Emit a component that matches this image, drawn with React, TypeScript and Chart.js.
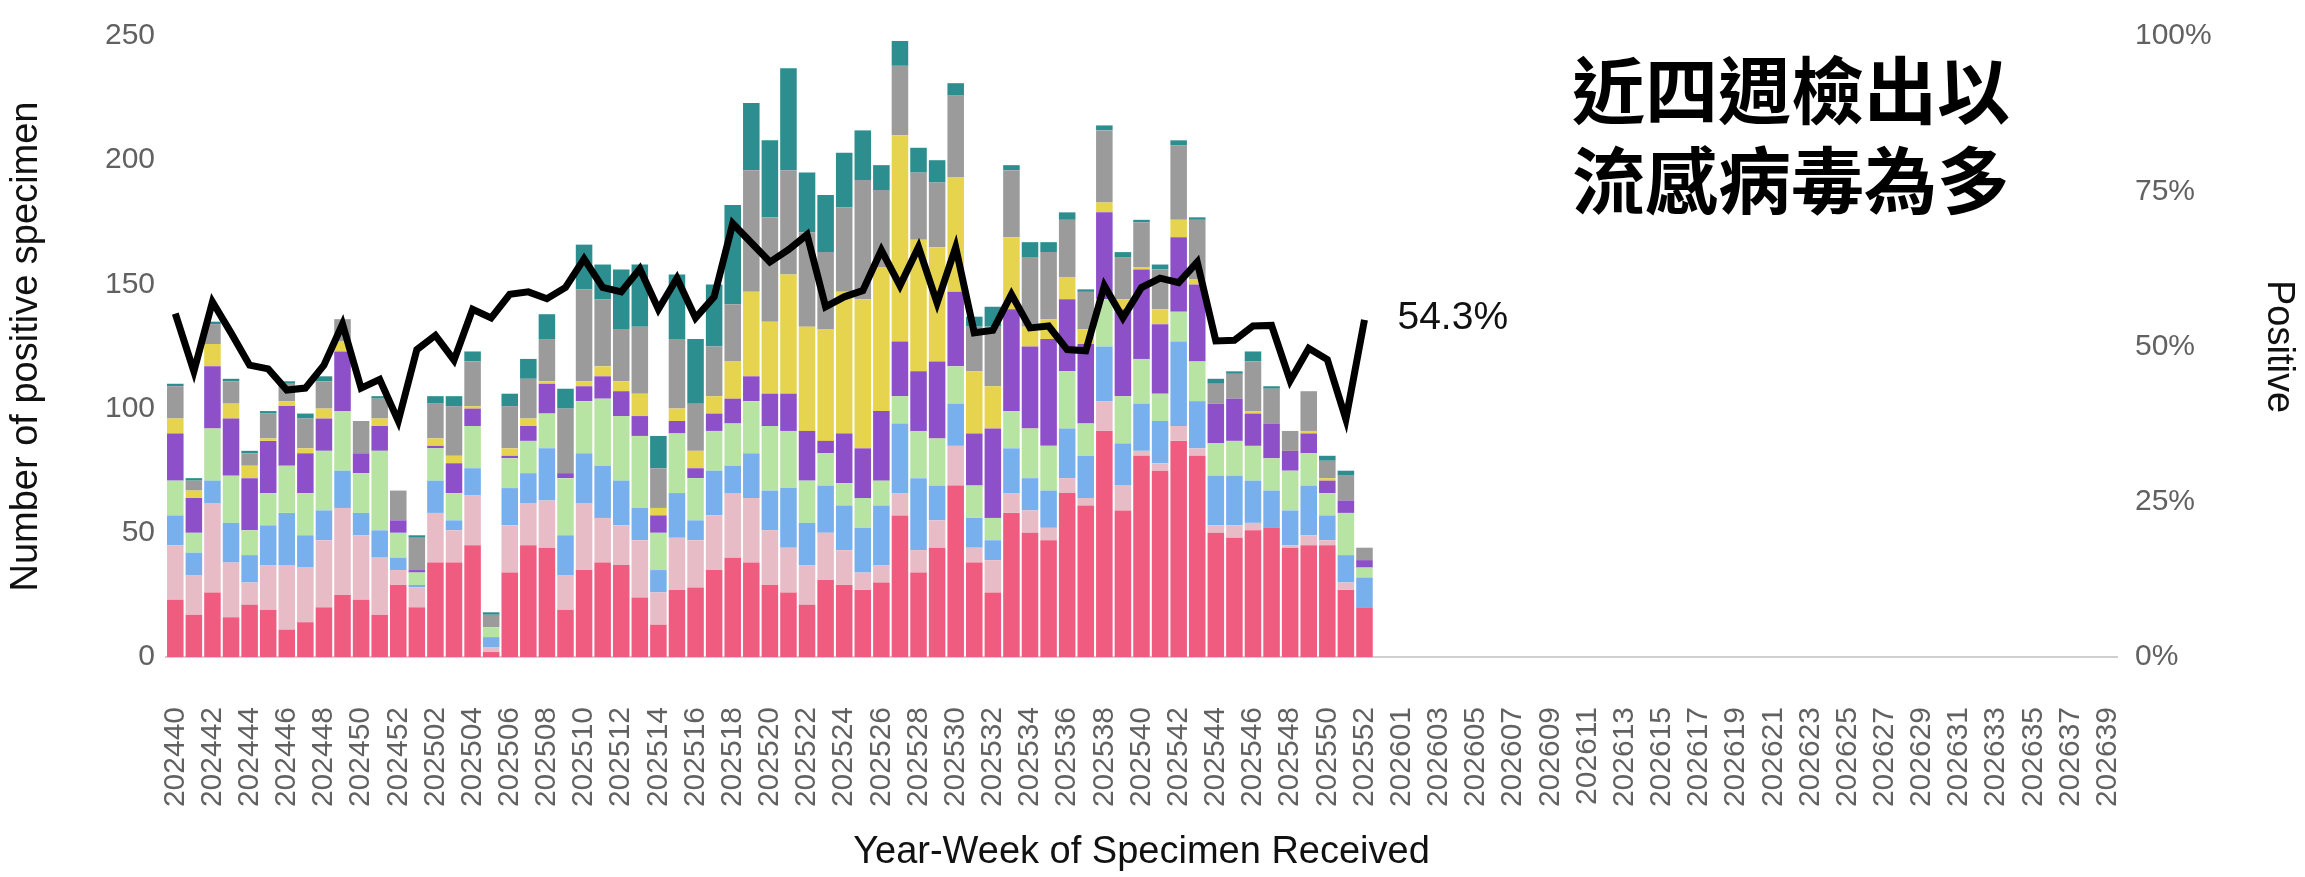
import React, { useEffect, useRef } from "react";
import { Chart, registerables } from "chart.js";

Chart.register(...registerables);

// Year-week categories (MMWR weeks; 2025 has 53 weeks)
const WEEK_RANGES: [number, number, number][] = [
  [2024, 40, 52],
  [2025, 1, 53],
  [2026, 1, 39],
];
const weeks: string[] = [];
WEEK_RANGES.forEach(([y, a, b]) => {
  for (let w = a; w <= b; w++) weeks.push(`${y}${w < 10 ? "0" + w : w}`);
});

// Stacked series (bottom to top), weeks 202440 .. 202552
const seriesRed = [23,17,26,16,21,19,11,14,20,25, 23,17,29,20,38,38,45,2,34,45, 44,19,35,38,37,24,13,27,28,35, 40,38,29,26,21,31,29,27,30,57, 34,44,69,38,26,58,50,47,66,61, 91,59,81,75,87,81,50,48,51,52, 44,45,45,27,20];
const seriesLightPink = [22,16,36,22,9,18,26,22,27,35, 26,23,6,8,20,13,20,2,19,17, 19,14,27,18,16,23,13,21,19,22, 26,26,22,18,16,19,14,7,7,9, 9,11,16,6,13,8,9,5,6,3, 12,10,2,3,6,3,3,5,3,0, 1,4,2,3,0];
const seriesBlue = [12,9,9,16,11,16,21,13,12,15, 9,11,5,1,13,4,11,4,15,12, 21,16,20,21,18,13,9,18,8,18, 11,18,16,24,17,19,18,18,24,28, 29,14,17,12,8,18,13,15,20,17, 22,17,19,17,34,19,20,20,17,15, 14,20,10,11,12];
const seriesGreen = [14,8,21,19,10,13,19,17,24,24, 16,32,10,5,13,11,17,4,12,13, 14,23,21,27,26,29,15,24,17,16, 17,21,26,23,17,13,9,12,10,11, 19,19,15,13,9,15,20,18,23,13, 19,19,18,11,12,16,13,14,14,13, 16,13,9,17,4];
const seriesPurple = [19,14,25,23,21,21,24,16,13,24, 8,10,5,1,1,12,7,0,1,6, 12,2,6,9,10,8,7,5,4,7, 10,10,13,15,20,5,20,20,28,22, 24,31,30,21,36,41,33,43,29,32, 35,35,36,28,30,31,16,17,13,14, 8,8,5,5,3];
const seriesYellow = [6,3,9,6,5,1,2,2,4,4, 0,3,0,0,3,3,1,0,3,3, 1,0,2,4,4,9,3,5,7,7, 15,34,29,48,42,45,57,60,58,83, 53,46,46,25,17,29,8,8,9,6, 4,4,1,6,7,2,0,0,1,0, 0,1,1,0,0];
const seriesGray = [13,4,8,9,5,10,7,12,11,9, 13,8,12,13,14,20,18,5,17,16, 17,26,37,27,21,27,16,28,19,20, 23,49,42,42,38,31,34,48,31,28, 27,26,33,18,24,27,28,27,23,15, 29,17,18,16,30,24,8,10,20,14, 8,16,7,10,5];
const seriesTeal = [1,1,1,1,1,1,1,2,2,0, 0,1,0,1,3,4,4,1,5,8, 10,8,18,14,24,25,13,26,26,25, 40,27,31,41,24,23,22,20,10,10, 10,9,5,4,8,2,6,4,3,1, 2,2,1,2,2,1,2,1,4,1, 0,0,2,2,0];

// Positive rate (%)
const positiveRate = [55.3,46,57.2,52.2,47,46.4,43,43.3,47,53.6, 43.3,44.7,38,49.5,51.8,47.8,56,54.6,58.4,58.8, 57.7,59.5,64.1,59.5,58.8,62.5,56,61,54.6,58, 69.8,66.7,63.6,65.6,68,56.4,58,59,65.5,59.8, 66,57,66,52.2,52.6,58.4,53,53.3,49.5,49.3, 59.8,54.6,59.5,61,60.3,63.6,50.9,51,53.3,53.4, 44.5,49.7,47.9,38.3,54.3];

const leftTicks = [0, 50, 100, 150, 200, 250];
const rightTicks = [0, 25, 50, 75, 100];
const annotationLines = ["近四週檢出以", "流感病毒為多"];
const lastLabel = "54.3%";

const barSeries = [
  { name: "Series 1", data: seriesRed, color: "#F05C80" },
  { name: "Series 2", data: seriesLightPink, color: "#E8BCC6" },
  { name: "Series 3", data: seriesBlue, color: "#78B0EE" },
  { name: "Series 4", data: seriesGreen, color: "#B8E4A3" },
  { name: "Series 5", data: seriesPurple, color: "#8E50C9" },
  { name: "Series 6", data: seriesYellow, color: "#E7D44E" },
  { name: "Series 7", data: seriesGray, color: "#9B9B9B" },
  { name: "Series 8", data: seriesTeal, color: "#2C8E8E" },
];

const FONT = "'Liberation Sans', Arial, sans-serif";

export default function App() {
  const ref = useRef<HTMLCanvasElement | null>(null);

  useEffect(() => {
    document.body.style.margin = "0";
    const canvas = ref.current!;
    const textPlugin = {
      id: "texts",
      afterDraw(chart: any) {
        const ctx = chart.ctx;
        ctx.save();
        ctx.fillStyle = "#000";
        ctx.textBaseline = "middle";
        ctx.textAlign = "left";
        ctx.font = `bold 73px 'Noto Sans CJK TC', sans-serif`;
        ctx.fillText(annotationLines[0], 1572, 90);
        ctx.fillText(annotationLines[1], 1572, 180);
        const xs = chart.scales.x;
        const y1 = chart.scales.y1;
        const li = positiveRate.length - 1;
        ctx.font = `39px ${FONT}`;
        ctx.fillStyle = "#111";
        ctx.fillText(lastLabel, xs.getPixelForValue(li) + 33, y1.getPixelForValue(positiveRate[li]) - 2);
        ctx.restore();
      },
    };

    const chart = new Chart(canvas, {
      data: {
        labels: weeks,
        datasets: [
          {
            type: "line",
            label: "Positive",
            data: positiveRate,
            yAxisID: "y1",
            borderColor: "#000",
            borderWidth: 7,
            pointRadius: 0,
            tension: 0,
            fill: false,
            order: 0,
          } as any,
          ...barSeries.map((s) => ({
            type: "bar",
            label: s.name,
            data: s.data,
            backgroundColor: s.color,
            yAxisID: "y",
            stack: "a",
            categoryPercentage: 1,
            barPercentage: 0.89,
            borderWidth: 0,
            order: 1,
          })),
        ],
      },
      options: {
        responsive: false,
        animation: false,
        layout: { padding: { top: 29, left: 0, right: 0, bottom: 0 } },
        plugins: { legend: { display: false }, tooltip: { enabled: false } },
        scales: {
          x: {
            stacked: true,
            grid: { display: false, drawTicks: false },
            border: { display: true, color: "#d0d0d0", width: 2 },
            ticks: {
              autoSkip: false,
              maxRotation: 90,
              minRotation: 90,
              padding: 50,
              color: "#616161",
              font: { size: 30, family: FONT },
              callback: (_v: any, i: number) => (i % 2 === 0 ? weeks[i] : ""),
            },
            title: {
              display: true,
              text: "Year-Week of Specimen Received",
              color: "#111",
              font: { size: 38, family: FONT },
              padding: { top: 4, bottom: 2 },
            },
            afterFit: (s: any) => { s.height = 220; },
          },
          y: {
            stacked: true,
            position: "left",
            min: 0,
            max: 250,
            grid: { display: false, drawTicks: false },
            border: { display: false },
            afterBuildTicks: (s: any) => { s.ticks = leftTicks.map((v) => ({ value: v })); },
            ticks: {
              padding: 11,
              color: "#616161",
              font: { size: 30, family: FONT },
            },
            title: {
              display: true,
              text: "Number of positive specimen",
              color: "#111",
              font: { size: 38, family: FONT },
              padding: { top: 4, bottom: 4 },
            },
            afterFit: (s: any) => { s.width = 166; },
          },
          y1: {
            stacked: false,
            position: "right",
            min: 0,
            max: 100,
            grid: { display: false, drawTicks: false },
            border: { display: false },
            afterBuildTicks: (s: any) => { s.ticks = rightTicks.map((v) => ({ value: v })); },
            ticks: {
              padding: 18,
              color: "#616161",
              font: { size: 30, family: FONT },
              callback: (v: any) => `${v}%`,
            },
            title: {
              display: true,
              text: "Positive",
              color: "#111",
              font: { size: 38, family: FONT },
              padding: { top: 4, bottom: 4 },
            },
            afterFit: (s: any) => { s.width = 188; },
          },
        },
      } as any,
      plugins: [textPlugin],
    } as any);

    return () => chart.destroy();
  }, []);

  return (
    <div style={{ position: "absolute", left: 0, top: 0, width: 2305, height: 877 }}>
      <canvas ref={ref} width={2305} height={877} style={{ width: 2305, height: 877 }} />
    </div>
  );
}
